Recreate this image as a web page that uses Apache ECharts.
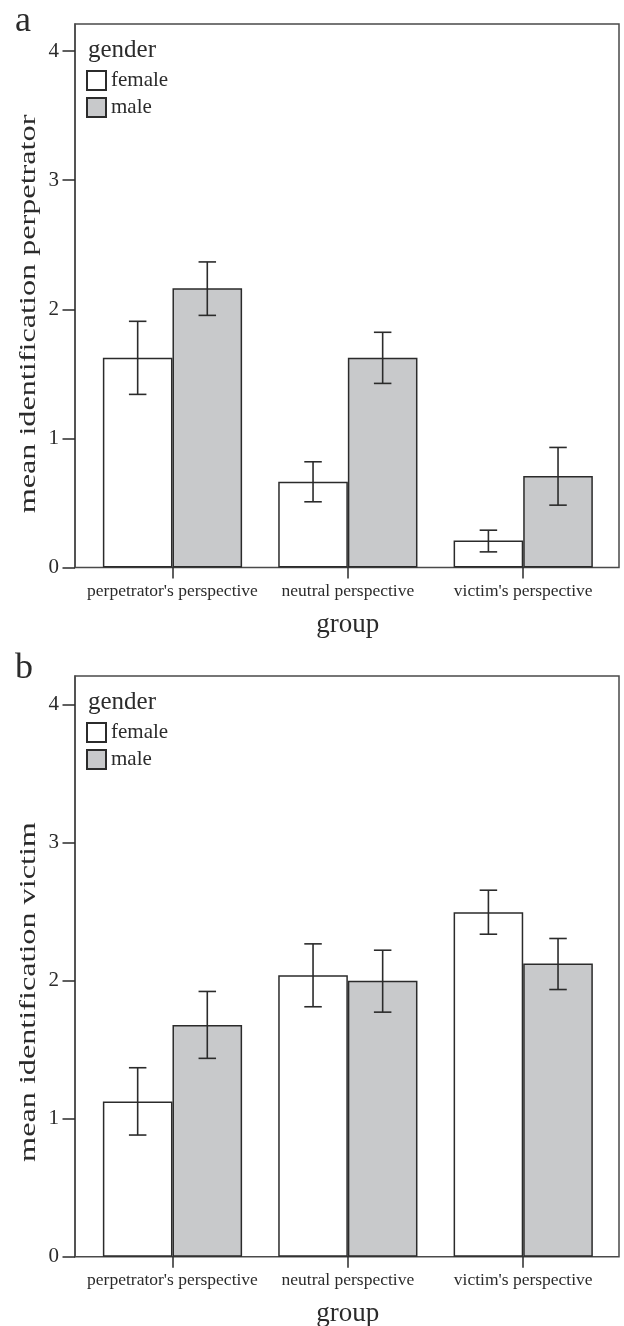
<!DOCTYPE html>
<html><head><meta charset="utf-8">
<script src="https://cdn.jsdelivr.net/npm/echarts@6/dist/echarts.min.js"></script>
<style>html,body{margin:0;padding:0;background:#fff}#c{width:624px;height:1326px}</style>
</head><body><div id="c"></div>
<script>
// ---------- data ----------
const categories = ["perpetrator's perspective", "neutral perspective", "victim's perspective"];
const genders = ['female', 'male'];
const yTicks = [0, 1, 2, 3, 4];
const yMax = 4.21;
// panel a: mean identification perpetrator
const perpFemale     = [1.625, 0.664, 0.209];
const perpFemaleLow  = [1.341, 0.509, 0.121];
const perpFemaleHigh = [1.907, 0.819, 0.289];
const perpMale       = [2.163, 1.625, 0.708];
const perpMaleLow    = [1.953, 1.426, 0.483];
const perpMaleHigh   = [2.367, 1.822, 0.930];
// panel b: mean identification victim
const victFemale     = [1.126, 2.041, 2.498];
const victFemaleLow  = [0.882, 1.812, 2.338];
const victFemaleHigh = [1.370, 2.268, 2.657];
const victMale       = [1.679, 2.000, 2.126];
const victMaleLow    = [1.438, 1.773, 1.937];
const victMaleHigh   = [1.923, 2.222, 2.307];

// ---------- styling ----------
const FONT = '"Liberation Serif", "DejaVu Serif", serif';
const INK = '#2b2b2b';
const FRAME = '#4a4a4a';
const MALE_FILL = '#c8c9cb';
const CAT_GAP = 0.206;
const panels = [
  {top: 24, height: 543.5, letter: 'a', letterTop: -20, ytitle: 'mean identification perpetrator', ytitleY: 314,
   f: perpFemale, fl: perpFemaleLow, fh: perpFemaleHigh, m: perpMale, ml: perpMaleLow, mh: perpMaleHigh},
  {top: 676, height: 580.7, letter: 'b', letterTop: -25, ytitle: 'mean identification victim', ytitleY: 992,
   f: victFemale, fl: victFemaleLow, fh: victFemaleHigh, m: victMale, ml: victMaleLow, mh: victMaleHigh}
];

function errRender(sign) {
  return function (params, api) {
    const i = api.value(0), lo = api.value(1), hi = api.value(2);
    const band = api.size([1, 0])[0];
    const barW = band * (1 - CAT_GAP) / 2;
    const p1 = api.coord([i, hi]);
    const p2 = api.coord([i, lo]);
    const x = p1[0] + sign * barW / 2;
    const cap = 8.75;
    const st = {stroke: INK, lineWidth: 1.6};
    return {type: 'group', children: [
      {type: 'line', shape: {x1: x, y1: p1[1], x2: x, y2: p2[1]}, style: st},
      {type: 'line', shape: {x1: x - cap, y1: p1[1], x2: x + cap, y2: p1[1]}, style: st},
      {type: 'line', shape: {x1: x - cap, y1: p2[1], x2: x + cap, y2: p2[1]}, style: st}
    ]};
  };
}

const grid = [], xAxis = [], yAxis = [], series = [], legend = [], title = [], graphic = [];
panels.forEach((p, k) => {
  const gF = k * 2, gD = k * 2 + 1;
  grid.push({left: 75, right: 5, top: p.top, height: p.height, show: true, outerBoundsMode: 'none',
             containLabel: false, borderColor: FRAME, borderWidth: 1.5, backgroundColor: 'transparent'});
  grid.push({left: 84.8, right: 13.1, top: p.top, height: p.height, outerBoundsMode: 'none', containLabel: false});
  xAxis.push({gridIndex: gF, type: 'value', min: 0, max: 1, show: false});
  xAxis.push({gridIndex: gD, type: 'category', data: categories,
    axisLine: {show: false},
    axisTick: {show: true, alignWithLabel: true, length: 11, lineStyle: {color: INK, width: 1.5}},
    axisLabel: {interval: 0, fontSize: 17.5, fontFamily: FONT, color: INK, margin: 15},
    name: 'group', nameLocation: 'middle', nameGap: 44,
    nameTextStyle: {fontSize: 27, fontFamily: FONT, color: INK}});
  yAxis.push({gridIndex: gF, type: 'value', min: 0, max: yMax,
    axisLine: {show: true, lineStyle: {color: FRAME, width: 1.5}},
    axisTick: {show: true, customValues: yTicks, length: 12.5, lineStyle: {color: INK, width: 1.5}},
    axisLabel: {customValues: yTicks, fontSize: 21, fontFamily: FONT, color: INK, margin: 16},
    splitLine: {show: false}});
  yAxis.push({gridIndex: gD, type: 'value', min: 0, max: yMax, show: false});

  series.push({name: 'female', type: 'bar', xAxisIndex: gD, yAxisIndex: gD, data: p.f,
    barGap: '0%', barCategoryGap: (CAT_GAP * 100) + '%',
    itemStyle: {color: '#ffffff', borderColor: INK, borderWidth: 1.5}});
  series.push({name: 'male', type: 'bar', xAxisIndex: gD, yAxisIndex: gD, data: p.m,
    barGap: '0%', barCategoryGap: (CAT_GAP * 100) + '%',
    itemStyle: {color: MALE_FILL, borderColor: INK, borderWidth: 1.5}});
  series.push({name: 'female CI', type: 'custom', xAxisIndex: gD, yAxisIndex: gD, z: 5,
    renderItem: errRender(-1), encode: {x: 0, y: [1, 2]},
    data: categories.map((c, i) => [i, p.fl[i], p.fh[i]])});
  series.push({name: 'male CI', type: 'custom', xAxisIndex: gD, yAxisIndex: gD, z: 5,
    renderItem: errRender(1), encode: {x: 0, y: [1, 2]},
    data: categories.map((c, i) => [i, p.ml[i], p.mh[i]])});

  legend.push({data: genders, orient: 'vertical', left: 86, top: p.top + 46,
    itemWidth: 19, itemHeight: 19, itemGap: 6, icon: 'rect', selectedMode: false, padding: 0,
    textStyle: {fontSize: 21, fontFamily: FONT, color: INK}});
  title.push({text: p.letter, left: 15, top: p.top + p.letterTop, padding: 0,
    textStyle: {fontSize: 36, fontWeight: 'normal', fontFamily: FONT, color: INK}});
  title.push({text: 'gender', left: 88, top: p.top + 14, padding: 0,
    textStyle: {fontSize: 25, fontWeight: 'normal', fontFamily: FONT, color: INK}});
  graphic.push({type: 'text', x: 29, y: p.ytitleY, rotation: Math.PI / 2, scaleX: 1.4,
    style: {text: p.ytitle, font: '23px ' + FONT, fill: INK, align: 'center', verticalAlign: 'middle'}});
});

const chart = echarts.init(document.getElementById('c'), null, {renderer: 'canvas'});
chart.setOption({animation: false, backgroundColor: '#ffffff',
  grid, xAxis, yAxis, series, legend, title, graphic});
</script></body></html>
